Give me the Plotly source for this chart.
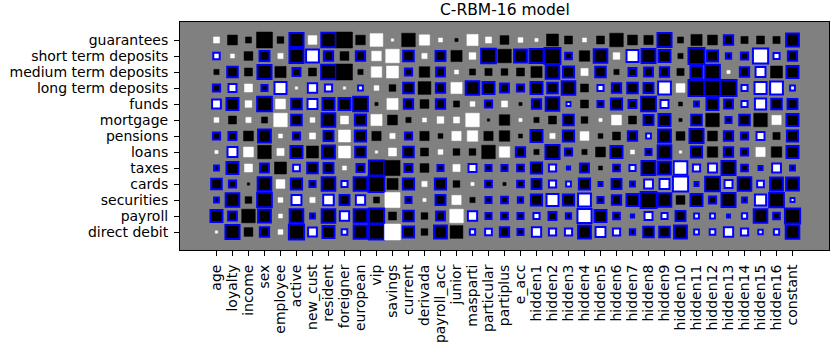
import plotly.graph_objects as go

rows = ["guarantees", "short term deposits", "medium term deposits", "long term deposits",
        "funds", "mortgage", "pensions", "loans", "taxes", "cards", "securities",
        "payroll", "direct debit"]

cols = ["age", "loyalty", "income", "sex", "employee", "active", "new_cust", "resident",
        "foreigner", "european", "vip", "savings", "current", "derivada", "payroll_acc",
        "junior", "masparti", "particular", "partiplus", "e_acc",
        "hidden1", "hidden2", "hidden3", "hidden4", "hidden5", "hidden6", "hidden7", "hidden8",
        "hidden9", "hidden10", "hidden11", "hidden12", "hidden13", "hidden14", "hidden15",
        "hidden16", "constant"]

# signed square size per cell (white > 0, black < 0), one list per row
weights = [
    [0.38, -0.62, -0.38, -1.0, -0.42, -0.88, 0.55, -0.9, -1.0, -0.6,
     0.8, 0.15, -0.85, 0.65, 0.25, -0.2, 0.7, 0.38, -0.55, 0.3,
     0.2, -0.75, -0.5, 0.25, -0.5, -0.85, -0.62, -0.58, -0.88, -0.38,
     -0.7, -0.62, -0.58, -0.45, -0.5, -0.45, -0.8],
    [0.4, 0.25, -0.55, -0.62, 0.33, -0.88, 0.8, -0.58, -0.55, -0.58,
     0.6, 0.85, -0.66, 0.33, -0.62, -0.7, 0.42, -0.92, -0.85, -0.8,
     -0.88, -1.0, -0.42, -0.66, -0.85, 0.42, 0.75, -0.88, -0.75, -0.33,
     -1.0, -0.7, -0.33, -0.45, 0.95, 0.38, -0.58],
    [-0.33, -0.66, -0.5, -0.88, -0.7, -0.5, -0.5, -0.92, -1.0, -0.33,
     0.66, 0.75, -0.45, -0.66, -0.55, 0.25, -0.38, -0.45, -0.42, -0.5,
     -0.7, -0.85, -0.7, 0.45, -0.66, -0.33, -0.5, -0.55, -0.58, -0.45,
     -0.75, -0.92, 0.2, -0.58, 0.62, -0.75, -0.75],
    [-0.45, 0.5, 0.5, -0.38, 0.75, 0.15, 0.58, 0.45, 0.15, 0.3,
     0.3, -0.42, -0.66, -0.8, -0.58, 0.7, -0.85, -0.75, -0.55, -0.45,
     -0.75, -0.66, -0.85, -0.5, 0.38, -0.58, -0.66, -0.62, 0.8, 0.55,
     -1.0, -1.0, -1.0, 0.38, 0.75, 0.8, 0.3],
    [0.55, -0.75, 0.42, -0.92, 0.62, -0.66, 0.62, -0.75, -0.75, -0.92,
     -0.2, 0.7, -0.58, -0.55, -0.58, -0.38, 0.3, -0.45, 0.38, -0.2,
     -0.58, -0.85, 0.25, -0.5, -0.38, -0.7, -0.5, -0.92, 0.5, -0.25,
     -0.3, -0.75, -0.55, 0.38, 0.7, -0.66, -0.62],
    [0.3, -0.5, 0.33, -0.38, 0.85, -0.66, 0.3, -0.85, 0.5, -0.7,
     0.7, -0.62, -0.33, 0.25, 0.42, 0.38, 0.85, -0.15, -0.66, 0.2,
     -0.33, -0.5, -0.66, -0.42, 0.2, 0.62, -0.5, -0.62, -0.75, -0.2,
     -0.66, -0.85, -0.38, -0.66, -0.85, 0.58, -0.75],
    [-0.45, -0.5, -0.62, -0.8, 0.25, -0.45, 0.38, -0.62, 0.75, -0.7,
     -0.58, 0.33, -0.45, -0.58, -0.3, 0.58, 0.66, -0.58, -0.66, -0.25,
     -0.75, 0.33, -0.7, 0.55, -0.3, -0.5, -0.58, 0.3, -0.8, -0.55,
     -0.88, -0.62, -0.58, -0.45, 0.5, -0.45, -0.7],
    [0.2, 0.62, 0.62, -0.85, 0.45, -0.75, -0.75, -0.8, 0.75, -0.66,
     0.15, 0.5, -0.66, -0.5, 0.3, -0.42, -0.42, -0.85, 0.66, -0.58,
     -0.33, -0.88, -0.45, -0.33, -0.62, -0.75, 0.25, -0.38, -0.85, 0.15,
     -0.7, -0.66, -0.58, -0.45, 0.58, -0.66, -0.75],
    [-0.3, -0.75, 0.5, -0.55, -0.75, 0.42, -0.66, -0.62, 0.25, -0.5,
     -0.95, -0.95, -0.5, -0.55, -0.38, 0.45, 0.5, -0.38, -0.38, -0.42,
     -0.7, 0.45, -0.2, -0.55, -0.25, -0.42, 0.38, -0.88, -0.8, 0.85,
     0.45, 0.55, -0.88, -0.42, -0.25, 0.55, -0.3],
    [-0.66, -0.45, -0.15, -0.85, 0.55, -0.7, -0.38, -0.85, 0.38, -0.85,
     -1.0, -0.7, -0.7, 0.33, -0.7, -0.42, 0.2, -0.42, -0.2, -0.42,
     -0.62, 0.45, 0.3, -0.7, -0.25, -0.62, -0.3, 0.55, 0.62, 0.95,
     -0.25, -0.92, 0.5, -0.85, 0.42, -0.8, -0.8],
    [-0.3, -0.85, -0.42, -0.92, 0.3, 0.62, 0.33, 0.66, -0.62, 0.58,
     -0.38, 0.95, -0.38, 0.2, -0.62, 0.58, -0.33, -0.38, -0.42, -0.33,
     -0.7, 0.75, -0.7, 0.8, -0.38, -0.58, -0.75, -1.0, -0.85, -0.55,
     -0.75, -0.45, -0.88, -0.3, 0.7, -0.92, 0.25],
    [-0.75, -0.55, -0.85, -0.8, 0.25, -0.85, -0.3, -0.85, 0.58, -0.85,
     -0.95, -0.5, -0.66, -0.42, -0.55, 0.85, 0.58, -0.38, -0.42, -0.38,
     0.38, -0.5, -0.33, 0.88, -0.75, -0.42, -0.2, 0.5, 0.38, -0.62,
     0.3, 0.3, -0.18, 0.33, -0.85, -0.42, -0.95],
    [0.15, -0.88, -0.55, -0.58, 0.3, -0.95, 0.55, -0.75, 0.35, -0.85,
     -0.95, 1.0, -0.7, -0.42, -0.8, -0.8, 0.33, 0.42, -0.58, -0.38,
     0.58, 0.45, 0.45, -0.8, 0.62, 0.45, -0.33, -0.66, -0.66, -0.8,
     0.3, 0.35, 0.58, 0.45, 0.28, 0.33, -0.85],
]

# columns whose square is outlined in blue, per row
blue_cols = [
    [5, 7, 28, 32, 36],
    [0, 3, 5, 6, 7, 9, 12, 14, 17, 19, 20, 21, 22, 24, 26, 27, 28, 30, 31, 32, 33, 34, 35, 36],
    [1, 3, 5, 7, 12, 14, 21, 22, 24, 26, 27, 28, 30, 31, 33, 34, 36],
    [0, 1, 3, 4, 6, 7, 9, 12, 14, 16, 17, 18, 19, 20, 21, 22, 24, 25, 26, 27, 28,
     30, 31, 32, 33, 34, 35, 36],
    [0, 1, 3, 5, 6, 7, 8, 9, 12, 14, 17, 20, 21, 22, 24, 25, 26, 27, 28,
     30, 31, 32, 33, 34, 35, 36],
    [5, 7, 9, 22, 27, 28, 30, 32, 33, 36],
    [0, 1, 3, 5, 7, 9, 12, 20, 22, 26, 27, 28, 30, 32, 33, 34, 36],
    [1, 5, 7, 9, 12, 19, 21, 22, 25, 27, 28, 30, 32, 33, 36],
    [0, 1, 3, 5, 6, 7, 9, 10, 12, 14, 16, 17, 18, 19, 20, 21, 22, 23, 25, 26, 27, 28,
     29, 30, 31, 32, 33, 34, 35, 36],
    [0, 1, 3, 5, 6, 7, 8, 9, 10, 12, 14, 17] + list(range(19, 37)),
    [0, 1, 3, 5, 7, 8, 9, 12, 14, 17, 18] + list(range(19, 29)) + list(range(30, 37)),
    [0, 1, 3, 5, 6, 7, 8, 9, 10, 12, 14, 16, 17, 18] + list(range(19, 37)),
    [1, 3, 5, 6, 7, 8, 9, 10, 12, 14, 16, 17, 18] + list(range(19, 37)),
]

FONT = "DejaVu Sans"

shapes = []
for r, row in enumerate(weights):
    for c, w in enumerate(row):
        h = abs(w) / 2
        fill = "white" if w > 0 else "black"
        if c in blue_cols[r]:
            line = dict(color="#0000ff", width=2)
        else:
            line = dict(color=fill, width=0.5)
        shapes.append(dict(
            type="rect", xref="x", yref="y",
            x0=c - h, x1=c + h, y0=r - h, y1=r + h,
            fillcolor=fill, line=line, layer="above",
        ))

fig = go.Figure()
# invisible trace so the axes are drawn
fig.add_trace(go.Scatter(x=[0, len(cols) - 1], y=[0, len(rows) - 1], mode="markers",
                         marker=dict(opacity=0), hoverinfo="skip", showlegend=False))

fig.update_layout(
    width=830,
    height=345,
    autosize=False,
    margin=dict(l=180, r=1, t=22, b=95),
    paper_bgcolor="white",
    plot_bgcolor="#808080",
    font=dict(family=FONT, size=14, color="black"),
    shapes=shapes,
    showlegend=False,
    annotations=[dict(
        text="C-RBM-16 model", xref="paper", yref="paper", x=0.5, y=1,
        xanchor="center", yanchor="bottom", yshift=2, borderpad=0, showarrow=False,
        font=dict(family=FONT, size=15.5, color="black"),
    )],
)

fig.update_xaxes(
    range=[-2.28, 38.28],
    tickmode="array",
    tickvals=list(range(len(cols))),
    ticktext=cols,
    tickangle=-90,
    ticks="outside",
    ticklen=5,
    tickwidth=1,
    tickcolor="black",
    ticklabelstandoff=3,
    automargin=False,
    showgrid=False,
    zeroline=False,
    showline=True,
    mirror=True,
    linecolor="black",
    linewidth=1,
)

fig.update_yaxes(
    range=[13.125, -1.125],
    tickmode="array",
    tickvals=list(range(len(rows))),
    ticktext=rows,
    ticks="outside",
    ticklen=5,
    tickwidth=1,
    tickcolor="black",
    ticklabelstandoff=3,
    automargin=False,
    showgrid=False,
    zeroline=False,
    showline=True,
    mirror=True,
    linecolor="black",
    linewidth=1,
)

# page body has a default 8px margin; drop it so the figure sits at the corner
fig.write_html("out.html", config={"displayModeBar": False},
               post_script="document.body.style.margin='0px';")
